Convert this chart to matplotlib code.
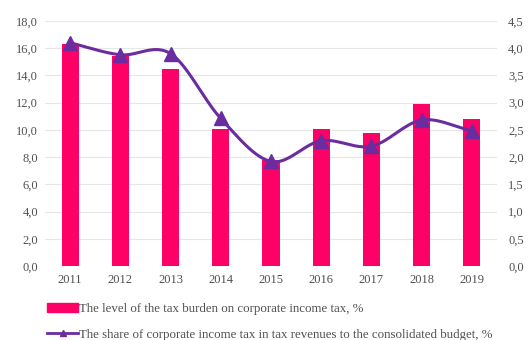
import numpy as np
import matplotlib
matplotlib.use("Agg")
import matplotlib.pyplot as plt
from matplotlib.ticker import FuncFormatter, MultipleLocator
from matplotlib.lines import Line2D
from matplotlib.patches import Patch

years = ["2011", "2012", "2013", "2014", "2015", "2016", "2017", "2018", "2019"]
tax_burden = [16.3, 15.4, 14.45, 10.1, 7.8, 10.1, 9.8, 11.9, 10.8]
share_income_tax = [4.1, 3.88, 3.9, 2.71, 1.92, 2.3, 2.2, 2.68, 2.48]

bar_color = "#FF0066"
line_color = "#6A2C9E"
text_color = "#505050"

plt.rcParams['font.family'] = ['Liberation Serif', 'DejaVu Serif']

fig = plt.figure(figsize=(5.31, 3.4), dpi=100)
ax = fig.add_axes([45/531, 1 - 266/340, 452/531, 245/340])
ax2 = ax.twinx()

x = np.arange(len(years))
ax.bar(x, tax_burden, width=0.34, color=bar_color, zorder=2)

# smooth curve (Catmull-Rom through the data points)
def catmull(xs, ys, n=30):
    xs = np.asarray(xs, float); ys = np.asarray(ys, float)
    px = np.concatenate([[2*xs[0]-xs[1]], xs, [2*xs[-1]-xs[-2]]])
    py = np.concatenate([[2*ys[0]-ys[1]], ys, [2*ys[-1]-ys[-2]]])
    ox, oy = [], []
    for i in range(1, len(px)-2):
        t = np.linspace(0, 1, n, endpoint=False)
        for P, out in ((px, ox), (py, oy)):
            p0, p1, p2, p3 = P[i-1], P[i], P[i+1], P[i+2]
            out.extend(0.5*((2*p1) + (-p0+p2)*t + (2*p0-5*p1+4*p2-p3)*t**2 + (-p0+3*p1-3*p2+p3)*t**3))
    ox.append(xs[-1]); oy.append(ys[-1])
    return np.array(ox), np.array(oy)

sx, sy = catmull(x, share_income_tax)
ax2.plot(sx, sy, color=line_color, lw=2.2, zorder=3)
ax2.plot(x, share_income_tax, ls='none', marker='^', ms=9.5, color=line_color, zorder=4)

ax.set_xlim(-0.5, len(years) - 0.5)
ax.set_ylim(0, 18)
ax2.set_ylim(0, 4.5)
ax.yaxis.set_major_locator(MultipleLocator(2))
ax2.yaxis.set_major_locator(MultipleLocator(0.5))
ax.yaxis.set_major_formatter(FuncFormatter(lambda v, p: f"{v:.1f}".replace('.', ',')))
ax2.yaxis.set_major_formatter(FuncFormatter(lambda v, p: f"{v:.1f}".replace('.', ',')))
ax.set_xticks(x)
ax.set_xticklabels(years)

ax.grid(axis='y', color='#E6E6E6', lw=0.8, zorder=0)
ax.set_axisbelow(True)
for a in (ax, ax2):
    for s in a.spines.values():
        s.set_visible(False)
    a.tick_params(length=0, labelsize=9, colors=text_color)
ax.tick_params(axis='y', pad=5)
ax2.tick_params(axis='y', pad=8)
ax.tick_params(axis='x', pad=6)

handles = [Patch(color=bar_color),
           Line2D([0], [0], color=line_color, lw=2, marker='^', ms=5)]
labels = ["The level of the tax burden on corporate income tax, %",
          "The share of corporate income tax in tax revenues to the consolidated budget, %"]
fig.legend(handles, labels, loc='upper left', bbox_to_anchor=(42/531, 1 - 298/340),
           frameon=False, fontsize=9.3, handlelength=2.4, handletextpad=0.1,
           labelspacing=1.05, borderaxespad=0, labelcolor=text_color)

fig.savefig("out.png", dpi=100)
